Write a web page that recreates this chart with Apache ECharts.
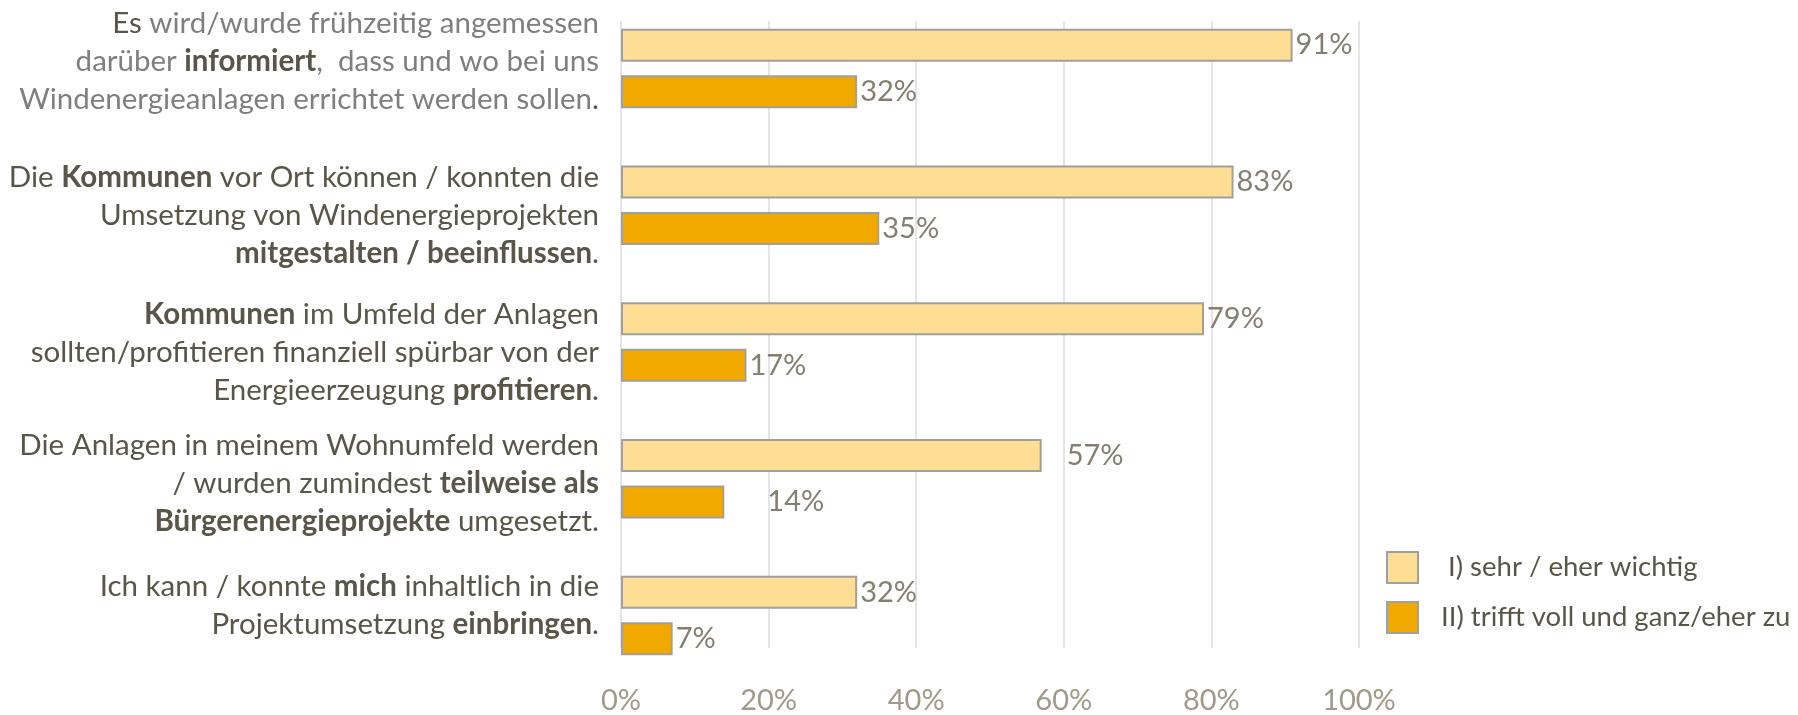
<!DOCTYPE html>
<html>
<head>
<meta charset="utf-8">
<script src="https://cdn.jsdelivr.net/npm/echarts@6/dist/echarts.min.js"></script>
<style>
  html, body { margin: 0; padding: 0; background: #fff; }
  #chart { width: 1798px; height: 715px; }
</style>
</head>
<body>
<div id="chart"></div>
<script>
// category texts (rich markup: d = dark, g = grey, b = bold)
const categories = [
  '{d|Es} {g|wird/wurde frühzeitig angemessen}\n{g|darüber} {b|informiert}{g|,  dass und wo bei uns}\n{g|Windenergieanlagen errichtet werden sollen}{d|.}',
  '{d|Die} {b|Kommunen} {d|vor Ort können / konnten die}\n{d|Umsetzung von Windenergieprojekten}\n{b|mitgestalten / beeinflussen}{d|.}',
  '{b|Kommunen} {d|im Umfeld der Anlagen}\n{d|sollten/profitieren finanziell spürbar von der}\n{d|Energieerzeugung} {b|profitieren}{d|.}',
  '{d|Die Anlagen in meinem Wohnumfeld werden}\n{d|/ wurden zumindest} {b|teilweise als}\n{b|Bürgerenergieprojekte} {d|umgesetzt.}',
  '{d|Ich kann / konnte} {b|mich} {d|inhaltlich in die}\n{d|Projektumsetzung} {b|einbringen}{d|.}'
]
const seriesNames = [' I) sehr / eher wichtig', 'II) trifft voll und ganz/eher zu']
const wichtig = [91, 83, 79, 57, 32]
const trifftZu = [32, 35, 17, 14, 7]
const xTicks = [0, 20, 40, 60, 80, 100]

const FONT = 'Lato'
const FS = 29
const CAT_FS = 29.5
const darkText = '#595548'
const greyText = '#7f7f7f'
const labelColor = '#857f72'
const axisColor = '#a09a8a'
const barBorder = '#a0a0a0'

// a few labels sit further right in the original
const labelNudge = { 0: { 3: 22 }, 1: { 3: 40 } }
// vertical nudge of the category texts (px, + = down)
const catShift = [-7, 10, 10, 5, -10]

function buildData(values, si) {
  return values.map((v, i) => {
    const extra = labelNudge[si] && labelNudge[si][i]
    if (!extra) return v
    return { value: v, label: { distance: 3 + extra } }
  })
}

const catData = categories.map((c, i) => {
  const s = catShift[i]
  return {
    value: c,
    textStyle: { padding: s >= 0 ? [2 * s, 0, 0, 0] : [0, 0, -2 * s, 0] }
  }
})

const chart = echarts.init(document.getElementById('chart'))
chart.setOption({
  backgroundColor: '#fff',
  animation: false,
  textStyle: { fontFamily: FONT },
  legend: {
    orient: 'vertical',
    left: 1381,
    top: 546,
    itemWidth: 31,
    itemHeight: 31,
    itemGap: 17,
    icon: 'rect',
    data: seriesNames,
    textStyle: {
      fontFamily: FONT,
      fontSize: 27.5,
      color: darkText,
      padding: [0, 0, 0, 18]
    }
  },
  grid: [{
    left: 621,
    width: 738,
    top: -4,
    height: 688
  }, {
    left: 621,
    width: 738,
    top: 21,
    height: 638
  }],
  xAxis: [{
    type: 'value',
    gridIndex: 0,
    min: 0,
    max: 100,
    show: false
  }, {
    type: 'value',
    gridIndex: 1,
    min: xTicks[0],
    max: xTicks[xTicks.length - 1],
    interval: xTicks[1] - xTicks[0],
    axisLine: { show: false },
    axisTick: { show: false },
    splitLine: { show: true, lineStyle: { color: '#dcdcdc', width: 1.5 } },
    axisLabel: {
      formatter: '{value}%',
      fontFamily: FONT,
      fontSize: FS,
      color: axisColor,
      margin: 38
    }
  }],
  yAxis: [{
    type: 'category',
    gridIndex: 0,
    inverse: true,
    data: catData,
    axisLine: { show: false },
    axisTick: { show: false },
    axisLabel: {
      margin: 22,
      fontFamily: FONT,
      fontSize: CAT_FS,
      lineHeight: 38,
      color: darkText,
      rich: {
        d: { fontFamily: FONT, fontSize: CAT_FS, lineHeight: 38, color: darkText },
        g: { fontFamily: FONT, fontSize: CAT_FS, lineHeight: 38, color: greyText },
        b: { fontFamily: FONT, fontSize: CAT_FS, lineHeight: 38, color: darkText, fontWeight: 'bold' }
      }
    }
  }, {
    type: 'category',
    gridIndex: 1,
    data: categories,
    show: false
  }],
  series: [{
    name: seriesNames[0],
    type: 'bar',
    xAxisIndex: 0,
    yAxisIndex: 0,
    data: buildData(wichtig, 0),
    barWidth: 33,
    barGap: '41%',
    itemStyle: { color: '#fedd95', borderColor: barBorder, borderWidth: 2 },
    label: {
      show: true,
      position: 'right',
      distance: 3,
      formatter: '{c}%',
      fontFamily: FONT,
      fontSize: FS,
      color: labelColor
    }
  }, {
    name: seriesNames[1],
    type: 'bar',
    xAxisIndex: 0,
    yAxisIndex: 0,
    data: buildData(trifftZu, 1),
    barWidth: 33,
    barGap: '41%',
    itemStyle: { color: '#f1a900', borderColor: barBorder, borderWidth: 2 },
    label: {
      show: true,
      position: 'right',
      distance: 3,
      formatter: '{c}%',
      fontFamily: FONT,
      fontSize: FS,
      color: labelColor
    }
  }]
})
</script>
</body>
</html>
